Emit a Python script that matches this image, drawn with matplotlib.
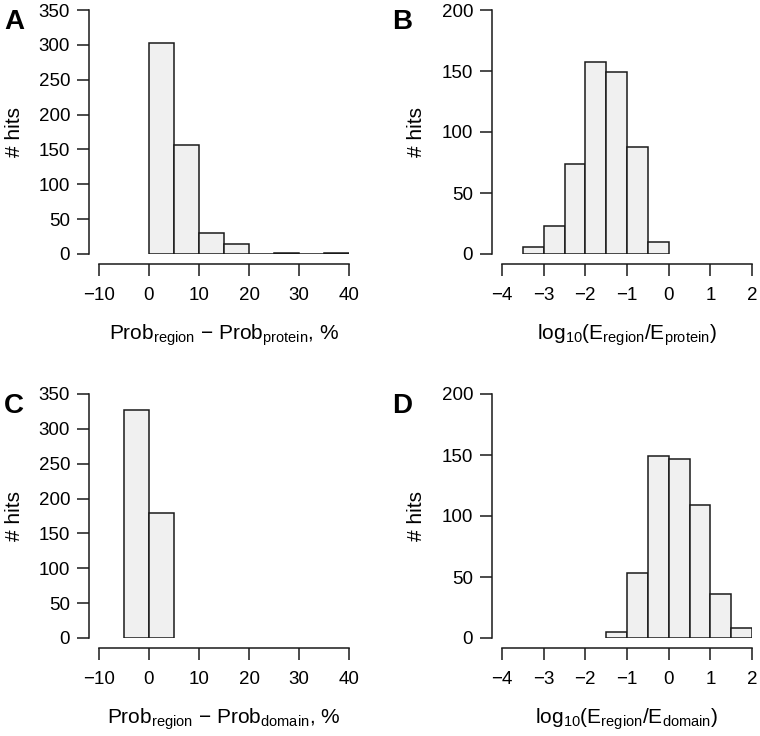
import matplotlib
matplotlib.use("Agg")
import matplotlib.pyplot as plt

plt.rcParams['font.family'] = ['Liberation Sans', 'DejaVu Sans']
plt.rcParams['mathtext.default'] = 'regular'

# bin edges and counts
edges_a = [0, 5, 10, 15, 20, 25, 30, 35, 40]
counts_a = [303, 157, 30, 14, 0, 2, 0, 1]

edges_b = [-3.5, -3.0, -2.5, -2.0, -1.5, -1.0, -0.5, 0.0]
counts_b = [6, 23, 74, 157, 149, 88, 10]

edges_c = [-5, 0, 5]
counts_c = [327, 180]

edges_d = [-1.5, -1.0, -0.5, 0.0, 0.5, 1.0, 1.5, 2.0]
counts_d = [5, 53, 149, 147, 109, 36, 8]

xticks_pct = [-10, 0, 10, 20, 30, 40]
xticks_log = [-4, -3, -2, -1, 0, 1, 2]
yticks_350 = [0, 50, 100, 150, 200, 250, 300, 350]
yticks_200 = [0, 50, 100, 150, 200]

xlabel_a = r'Prob$_{region}$ $-$ Prob$_{protein}$, %'
xlabel_b = r'log$_{10}$(E$_{region}$/E$_{protein}$)'
xlabel_c = r'Prob$_{region}$ $-$ Prob$_{domain}$, %'
xlabel_d = r'log$_{10}$(E$_{region}$/E$_{domain}$)'

W, H = 760, 736
fig = plt.figure(figsize=(W / 100, H / 100), dpi=100)


def panel(px_left, px_top, edges, counts, xticks, yticks, xlabel,
          letter, letter_x, ylab_x):
    # data area in pixels: 250 wide, 244 tall
    ax = fig.add_axes([px_left / W, (H - px_top - 244) / H, 250 / W, 244 / H])
    widths = [edges[i + 1] - edges[i] for i in range(len(counts))]
    ax.bar(edges[:-1], counts, width=widths, align='edge',
           color='#f0f0f0', edgecolor='#1a1a1a', linewidth=1.1)
    ax.set_xlim(xticks[0], xticks[-1])
    ax.set_ylim(yticks[0], yticks[-1])
    ax.set_xticks(xticks)
    ax.set_yticks(yticks)
    ax.set_xticklabels(['\u2212' + str(-t) if t < 0 else str(t) for t in xticks])
    for s in ['top', 'right']:
        ax.spines[s].set_visible(False)
    ax.spines['left'].set_position(('outward', 7.2))
    ax.spines['bottom'].set_position(('outward', 7.2))
    ax.spines['left'].set_bounds(yticks[0], yticks[-1])
    ax.spines['bottom'].set_bounds(xticks[0], xticks[-1])
    for s in ['left', 'bottom']:
        ax.spines[s].set_linewidth(1.1)
        ax.spines[s].set_color('#1a1a1a')
    ax.tick_params(axis='both', direction='out', length=8.6, width=1.1,
                   color='#1a1a1a', labelsize=13.5)
    ax.tick_params(axis='x', pad=8)
    ax.tick_params(axis='y', pad=5)
    ax.patch.set_visible(False)
    ax.set_ylabel('# hits', fontsize=15, va='center')
    ax.yaxis.set_label_coords((ylab_x - px_left) / 250, 0.5)
    ax.set_xlabel(xlabel, fontsize=15, va='center')
    ax.xaxis.set_label_coords(0.5, -0.335)
    fig.text(letter_x / W, 1 - (px_top - 1) / H, letter, fontsize=20,
             fontweight='bold', ha='left', va='top')
    return ax


panel(99, 10, edges_a, counts_a, xticks_pct, yticks_350, xlabel_a, 'A', 4, 15)
panel(502, 10, edges_b, counts_b, xticks_log, yticks_200, xlabel_b, 'B', 392, 417)
panel(99, 394, edges_c, counts_c, xticks_pct, yticks_350, xlabel_c, 'C', 4, 15)
panel(502, 394, edges_d, counts_d, xticks_log, yticks_200, xlabel_d, 'D', 392, 417)

fig.savefig('out.png', dpi=100)
